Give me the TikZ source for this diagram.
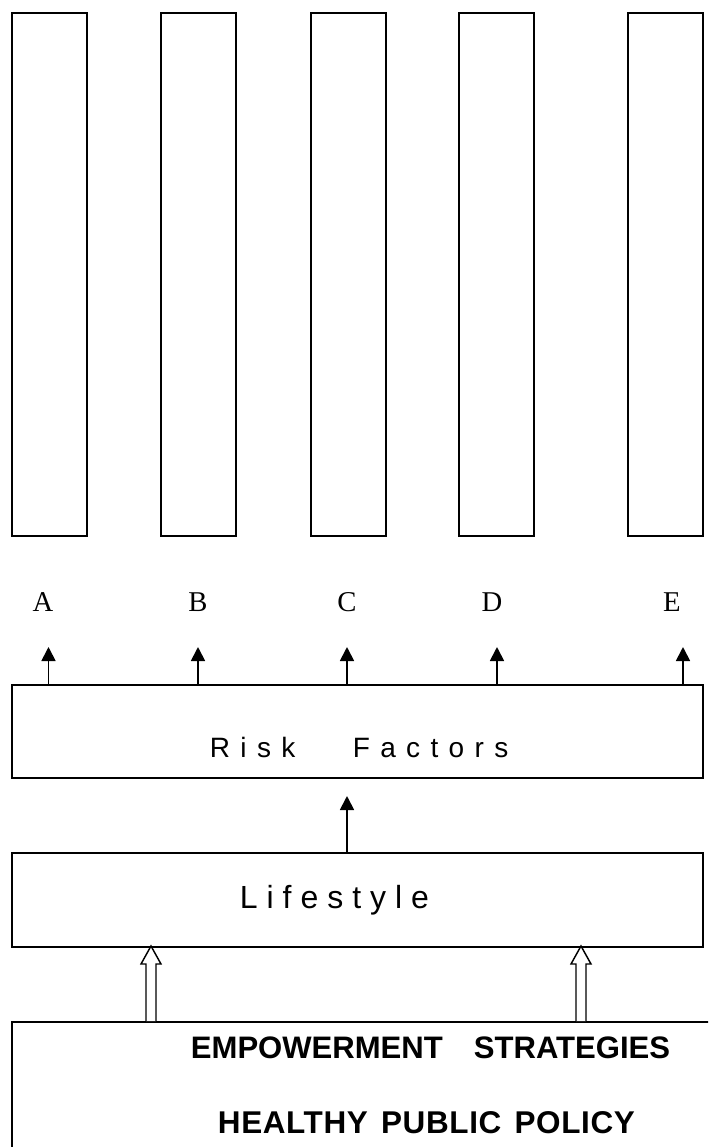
\documentclass[tikz,border=0pt]{standalone}
\usepackage{fontspec}
\setmainfont{Liberation Serif}
\newfontfamily\labelsans[LetterSpace=37]{Liberation Sans}
\newfontfamily\lifesans[LetterSpace=28]{Liberation Sans}
\newfontfamily\boldsans{Liberation Sans}
\newfontfamily\boldsanswide[LetterSpace=2]{Liberation Sans}
\usetikzlibrary{arrows.meta,calc}

\begin{document}
\begin{tikzpicture}[x=0.75pt,y=-0.75pt,
  line width=1.35pt,
  column/.style={draw,rectangle,anchor=north west,inner sep=0pt,
    minimum width=75*0.75pt,minimum height=523*0.75pt},
  band/.style={draw,rectangle,anchor=north west,inner sep=0pt,
    minimum width=691*0.75pt},
  letter/.style={inner sep=0pt,font=\fontsize{21.5pt}{24pt}\selectfont},
  txt/.style={inner sep=0pt,anchor=base west},
  arr/.style={-{Triangle[length=10.5pt,width=10.5pt]}},
  hollow/.style={fill=white,line width=1.1pt,line join=miter}]
  \useasboundingbox (0,0) rectangle (708,1147);
  \clip (0,0) rectangle (708,1147);

  % the five columns
  \node[column] (colA) at (11,12) {};
  \node[column] (colB) at (160,12) {};
  \node[column] (colC) at (310,12) {};
  \node[column] (colD) at (458,12) {};
  \node[column] (colE) at (627,12) {};

  % column letters
  \node[letter] (labA) at (43,602) {A};
  \node[letter] (labB) at (198,602) {B};
  \node[letter] (labC) at (347,602) {C};
  \node[letter] (labD) at (492,602) {D};
  \node[letter] (labE) at (672,602) {E};

  % horizontal bands
  \node[band,minimum height=93*0.75pt] (risk) at (11,684) {};
  \node[txt,font=\labelsans\fontsize{21pt}{24pt}\selectfont] (risktxt) at (209,757) {Risk\hspace{2.05em}Factors};

  \node[band,minimum height=94*0.75pt] (life) at (11,852) {};
  \node[txt,font=\lifesans\fontsize{24pt}{28pt}\selectfont] (lifetxt) at (239,908) {Lifestyle};

  \node[draw,rectangle,anchor=north west,inner sep=0pt,minimum width=720*0.75pt,minimum height=200*0.75pt] (base) at (11,1021) {};
  \node[txt,font=\boldsans\bfseries\fontsize{23.3pt}{28pt}\selectfont] (emp) at (190,1058) {EMPOWERMENT\hspace{1em}STRATEGIES};
  \node[txt,font=\boldsanswide\bfseries\fontsize{23.6pt}{28pt}\selectfont] (hpp) at (217,1133) {HEALTHY\hspace{0.42em}PUBLIC\hspace{0.42em}POLICY};

  % arrow tips above the risk band
  \coordinate (tA) at (48.5,647);
  \coordinate (tB) at (198,647);
  \coordinate (tC) at (347,647);
  \coordinate (tD) at (497,647);
  \coordinate (tE) at (683,647);
  \foreach \t in {tA,tB,tC,tD,tE}
    \draw[arr] (\t |- risk.north) -- (\t);

  % lifestyle to risk factors
  \coordinate (tR) at (347,796);
  \draw[arr] (tR |- life.north) -- (tR);

  % hollow arrows from the base band into lifestyle
  \foreach \n/\x in {hl/151,hr/581}{
    \coordinate (\n) at (\x,946);
    \draw[hollow] (\n |- base.north) ++(-5,0) -- ++(0,-57) -- ++(-5,0)
      -- (\n) -- ($(\n)+(10,18)$) -- ++(-5,0) -- ($(\n |- base.north)+(5,0)$);
  }
\end{tikzpicture}
\end{document}
